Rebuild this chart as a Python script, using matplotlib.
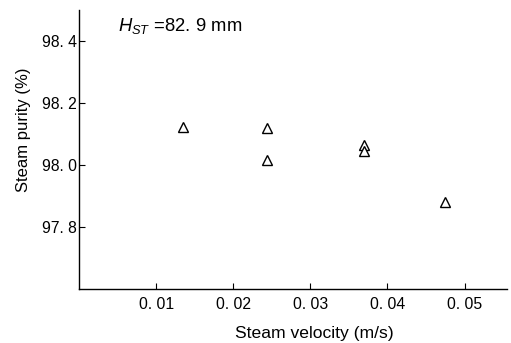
import matplotlib.pyplot as plt
import numpy as np

# steam velocity (m/s) vs steam purity (%)
velocity = [0.0135, 0.0244, 0.0244, 0.0369, 0.0369, 0.0475]
purity = [98.123, 98.12, 98.017, 98.065, 98.045, 97.88]

xticks = [0.01, 0.02, 0.03, 0.04, 0.05]
xticklabels = ['0. 01', '0. 02', '0. 03', '0. 04', '0. 05']
yticks = [97.8, 98.0, 98.2, 98.4]
yticklabels = ['97. 8', '98. 0', '98. 2', '98. 4']

plt.rcParams['font.family'] = ['Liberation Sans', 'DejaVu Sans']
plt.rcParams['mathtext.fontset'] = 'custom'
plt.rcParams['mathtext.it'] = 'Liberation Sans:italic'

fig = plt.figure(figsize=(5.11, 3.43), dpi=100)
ax = fig.add_axes([0.1546, 0.1574, 0.8374, 0.8134])

ax.plot(velocity, purity, linestyle='none', marker='^', markersize=7,
        markerfacecolor='white', markeredgecolor='black', markeredgewidth=1.0)

ax.set_xlim(0, 0.0555)
ax.set_ylim(97.6, 98.5)
ax.set_xticks(xticks)
ax.set_xticklabels(xticklabels)
ax.set_yticks(yticks)
ax.set_yticklabels(yticklabels)
ax.tick_params(direction='in', length=4, width=0.8, labelsize=11.3, colors='black')
ax.tick_params(axis='x', pad=6)
ax.tick_params(axis='y', pad=1.5)

for s in ['top', 'right']:
    ax.spines[s].set_visible(False)
for s in ['left', 'bottom']:
    ax.spines[s].set_linewidth(1.0)

ax.set_xlabel('Steam velocity (m/s)', fontsize=12.6)
ax.set_ylabel('Steam purity (%)', fontsize=12)
ax.xaxis.set_label_coords(0.551, -0.133)
ax.yaxis.set_label_coords(-0.112, 0.57)

ax.text(0.005, 98.45, r'$H_{ST}$ =82. 9 mm', fontsize=13.3, va='center', ha='left')

fig.savefig('out.png', dpi=100)
